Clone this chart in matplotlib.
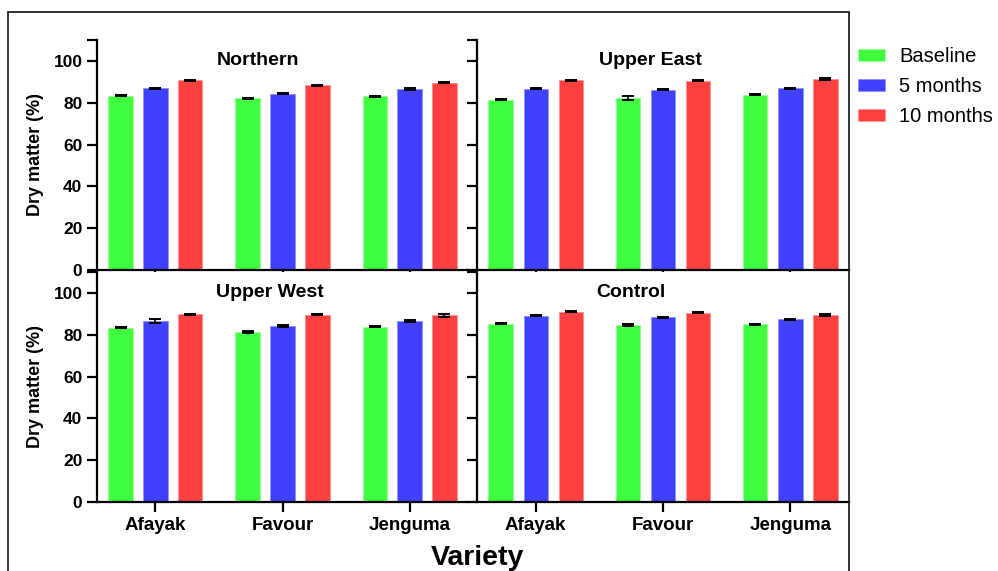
import matplotlib
matplotlib.use("Agg")
import matplotlib.pyplot as plt
from matplotlib.patches import Patch, Rectangle
import numpy as np

plt.rcParams['font.family'] = ['Liberation Sans', 'DejaVu Sans']

varieties = ["Afayak", "Favour", "Jenguma"]
regions = ["Northern", "Upper East", "Upper West", "Control"]
series_names = ["Baseline", "5 months", "10 months"]
series_colors = ["#40FF40", "#4040FF", "#FF4040"]
edge_colors = ["#90FF90", "#9090FF", "#FF9090"]

northern_baseline = [83.4, 82.1, 83.0]
northern_5m = [86.9, 84.3, 86.6]
northern_10m = [90.7, 88.3, 89.6]
northern_err_baseline = [0.3, 0.3, 0.3]
northern_err_5m = [0.2, 0.3, 0.3]
northern_err_10m = [0.3, 0.4, 0.3]

uppereast_baseline = [81.5, 82.2, 83.8]
uppereast_5m = [86.7, 86.3, 87.0]
uppereast_10m = [90.7, 90.5, 91.3]
uppereast_err_baseline = [0.3, 1.1, 0.3]
uppereast_err_5m = [0.3, 0.4, 0.2]
uppereast_err_10m = [0.3, 0.2, 0.3]

upperwest_baseline = [83.4, 81.3, 83.9]
upperwest_5m = [86.7, 84.3, 86.6]
upperwest_10m = [89.8, 89.6, 89.3]
upperwest_err_baseline = [0.2, 0.4, 0.3]
upperwest_err_5m = [0.9, 0.4, 0.4]
upperwest_err_10m = [0.3, 0.3, 0.6]

control_baseline = [85.3, 84.6, 85.0]
control_5m = [89.1, 88.3, 87.4]
control_10m = [91.0, 90.6, 89.4]
control_err_baseline = [0.3, 0.3, 0.3]
control_err_5m = [0.3, 0.4, 0.2]
control_err_10m = [0.3, 0.3, 0.3]

panel_data = {
    "Northern": ([northern_baseline, northern_5m, northern_10m],
                 [northern_err_baseline, northern_err_5m, northern_err_10m]),
    "Upper East": ([uppereast_baseline, uppereast_5m, uppereast_10m],
                   [uppereast_err_baseline, uppereast_err_5m, uppereast_err_10m]),
    "Upper West": ([upperwest_baseline, upperwest_5m, upperwest_10m],
                   [upperwest_err_baseline, upperwest_err_5m, upperwest_err_10m]),
    "Control": ([control_baseline, control_5m, control_10m],
                [control_err_baseline, control_err_5m, control_err_10m]),
}

W, H = 998, 571
fig = plt.figure(figsize=(W / 100, H / 100), dpi=100)

def rect(x0, x1, ytop, ybot):
    return [x0 / W, 1 - ybot / H, (x1 - x0) / W, (ybot - ytop) / H]

panel_boxes = {
    "Northern": rect(97, 468, 40, 270),
    "Upper East": rect(477, 849, 40, 270),
    "Upper West": rect(97, 468, 272, 502),
    "Control": rect(477, 849, 272, 502),
}
title_x = {"Northern": 0.434, "Upper East": 0.465, "Upper West": 0.466, "Control": 0.414}

x = np.arange(len(varieties))
offset = 0.275
bw = 0.19

for name in regions:
    ax = fig.add_axes(panel_boxes[name])
    means, errs = panel_data[name]
    for i in range(3):
        ax.bar(x + (i - 1) * offset, means[i], width=bw, color=series_colors[i],
               edgecolor=edge_colors[i], linewidth=0.6, zorder=2)
        ax.errorbar(x + (i - 1) * offset, means[i], yerr=errs[i], fmt='none',
                    ecolor='black', elinewidth=1.2, capsize=4.5, capthick=1.4, zorder=3)
    ax.set_xlim(-0.46, 2.46)
    ax.set_ylim(0, 110)
    ax.spines['top'].set_visible(False)
    ax.spines['right'].set_visible(False)
    for s in ['left', 'bottom']:
        ax.spines[s].set_linewidth(1.6)
    ax.set_yticks([0, 20, 40, 60, 80, 100, 110])
    left = name in ("Northern", "Upper West")
    bottom = name in ("Upper West", "Control")
    if left:
        ax.set_yticklabels(["0", "20", "40", "60", "80", "100", ""],
                           fontsize=12.5, fontweight='bold')
    else:
        ax.set_yticklabels([])
    ax.set_xticks(x)
    if bottom:
        ax.set_xticklabels(varieties, fontsize=13.5, fontweight='bold')
    else:
        ax.set_xticklabels([])
    ax.tick_params(axis='both', direction='out', length=7.5, width=1.6)
    ax.tick_params(axis='y', pad=3)
    ax.tick_params(axis='x', pad=3.5)
    ax.text(title_x[name], 0.91, name, transform=ax.transAxes, ha='center',
            va='center', fontsize=14, fontweight='bold')

# y labels
for yc in (155, 387):
    fig.text(35 / W, 1 - yc / H, "Dry matter (%)", rotation=90, ha='center',
             va='center', fontsize=13, fontweight='bold')

fig.text(477 / W, 1 - 565 / H, "Variety", ha='center', va='baseline',
         fontsize=20.5, fontweight='bold')

# outer frame
fig.add_artist(Rectangle((8 / W, -0.2), (849 - 8) / W, 0.2 + (571 - 12) / H,
                         transform=fig.transFigure, fill=False, lw=1.3,
                         edgecolor='#222222'))

handles = [Patch(facecolor=c, edgecolor=e, linewidth=0.6) for c, e in zip(series_colors, edge_colors)]
fig.legend(handles, series_names, loc='upper left', bbox_to_anchor=(858 / W, 1 - 47 / H),
           frameon=False, fontsize=14.5, borderpad=0, borderaxespad=0,
           handlelength=1.35, handleheight=0.6, handletextpad=0.7, labelspacing=0.55)

fig.savefig("out.png", dpi=100)
